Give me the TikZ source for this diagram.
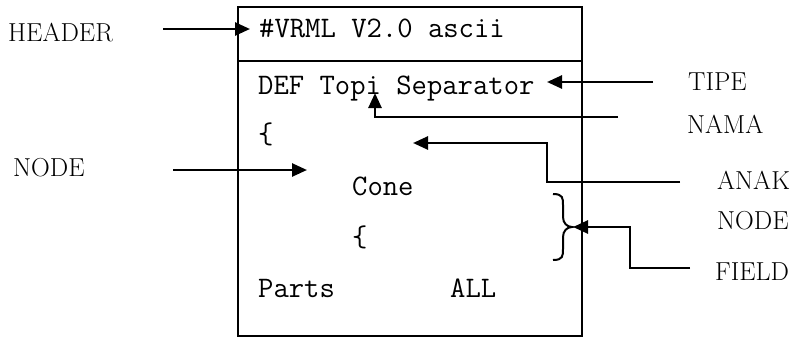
\documentclass[tikz,border=0pt]{standalone}
\usepackage{fontspec}
\usepackage{tikz}
\usetikzlibrary{arrows.meta}

\tikzset{
  code/.style={anchor=base west, inner sep=0pt, font=\ttfamily\fontsize{29.8}{30}\selectfont},
  lbl/.style={anchor=west, inner sep=0pt, font=\fontsize{26}{26}\selectfont},
  arr/.style={line width=2.6pt, -{Triangle[length=15pt,width=13pt]}},
}

\begin{document}
\begin{tikzpicture}[x=1pt, y=-1pt]
  \useasboundingbox (0,0) rectangle (794,338);
  % the code box
  \draw[line width=2pt] (238,7) rectangle (582,336);
  \draw[line width=2pt] (238,61) -- (582,61); % header line
  % code lines
  \node[code] (vrml) at (259,37) {\#VRML V2.0 ascii};
  \node[code] (def) at (258,94) {DEF Topi Separator};
  \node[code] (open1) at (258,143) {\{};
  \node[code] (cone) at (352,195) {Cone};
  \node[code] (open2) at (352,246) {\{};
  \node[code] (parts) at (258,297) {Parts};
  \node[code] (all) at (450,297) {ALL};
  % labels
  \node[lbl] (header) at (8,33) {HEADER};
  \node[lbl] (tipe) at (688,81.5) {TIPE};
  \node[lbl] (nama) at (687,124.5) {NAMA};
  \node[lbl] (node) at (13,167.5) {NODE};
  \node[lbl] (anak) at (717,180.5) {ANAK};
  \node[lbl] (anaknode) at (717,220.5) {NODE};
  \node[lbl] (field) at (715,271.5) {FIELD};
  % bend points
  \coordinate (h0) at (163,29);
  \coordinate (h1) at (250,29);
  \coordinate (t0) at (653,82);
  \coordinate (t1) at (547,82);
  \coordinate (n0) at (618,117);
  \coordinate (n1) at (375,117);
  \coordinate (n2) at (375,93);
  \coordinate (d0) at (173,170);
  \coordinate (d1) at (307,170);
  \coordinate (a0) at (680,182);
  \coordinate (a1) at (547,182);
  \coordinate (a2) at (547,143);
  \coordinate (a3) at (413,143);
  \coordinate (f0) at (690,268);
  \coordinate (f1) at (630,268);
  \coordinate (f2) at (630,227);
  \coordinate (f3) at (573,227);
  % arrows
  \draw[arr] (h0) -- (h1);
  \draw[arr] (t0) -- (t1);
  \draw[arr] (n0) -- (n1) -- (n2);
  \draw[arr] (d0) -- (d1);
  \draw[arr] (a0) -- (a1) -- (a2) -- (a3);
  \draw[arr] (f0) -- (f1) -- (f2) -- (f3);
  % curly brace of the fields
  \draw[line width=2pt] (553,194) .. controls (563,194) and (563,198) .. (563,205) -- (563,217)
    .. controls (563,223) and (567,227) .. (572,227)
    .. controls (567,227) and (563,231) .. (563,237) -- (563,249)
    .. controls (563,256) and (563,260) .. (553,260);
\end{tikzpicture}
\end{document}
